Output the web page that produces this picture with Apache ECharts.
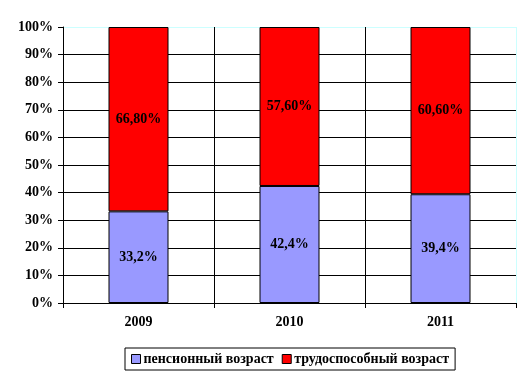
<!DOCTYPE html>
<html><head><meta charset="utf-8">
<script src="https://cdn.jsdelivr.net/npm/echarts@6/dist/echarts.min.js"></script>
<style>html,body{margin:0;padding:0;background:#fff}#c{width:531px;height:379px}</style>
</head><body><div id="c"></div>
<script>
var categories = ['2009', '2010', '2011'];
var pensionValues = [33.2, 42.4, 39.4];
var workingValues = [66.8, 57.6, 60.6];
var pensionLabels = ['33,2%', '42,4%', '39,4%'];
var workingLabels = ['66,80%', '57,60%', '60,60%'];
var seriesNames = ['пенсионный возраст', 'трудоспособный возраст'];

var font = 'Liberation Serif';
var yLineColors = [];
for (var i = 0; i < 10; i++) yLineColors.push('#000');
yLineColors.push('#ccffff');

var chart = echarts.init(document.getElementById('c'));
chart.setOption({
  animation: false,
  grid: {left: 63, right: 15, top: 27, bottom: 76, show: false},
  legend: {
    bottom: 9, left: 125,
    data: seriesNames,
    icon: 'rect',
    itemWidth: 9, itemHeight: 9, itemGap: 8,
    padding: [4, 6, 4, 6],
    borderColor: '#000', borderWidth: 1,
    textStyle: {fontFamily: font, fontWeight: 'bold', fontSize: 14, color: '#000', padding: [0, 0, 0, -2]},
    itemStyle: {borderColor: '#000', borderWidth: 1}
  },
  xAxis: {
    type: 'category', data: categories,
    axisLine: {lineStyle: {color: '#000', width: 1}},
    axisTick: {show: true, length: 5, lineStyle: {color: '#000'}},
    axisLabel: {fontFamily: font, fontWeight: 'bold', fontSize: 14, color: '#000', margin: 12},
    splitLine: {show: true, lineStyle: {color: ['#000', '#000', '#000', '#ccffff'], width: 1}}
  },
  yAxis: {
    type: 'value', min: 0, max: 100, interval: 10,
    axisLine: {show: true, lineStyle: {color: '#000', width: 1}},
    axisTick: {show: true, length: 5, lineStyle: {color: '#000'}},
    axisLabel: {fontFamily: font, fontWeight: 'bold', fontSize: 14, color: '#000', margin: 10, formatter: '{value}%'},
    splitLine: {show: true, lineStyle: {color: yLineColors, width: 1}}
  },
  series: [
    {
      name: seriesNames[0], type: 'bar', stack: 's', barWidth: 60,
      data: pensionValues,
      itemStyle: {color: '#9999ff', borderColor: '#000', borderWidth: 1},
      label: {show: true, position: 'inside', fontFamily: font, fontWeight: 'bold', fontSize: 14, color: '#000',
        formatter: function (p) { return pensionLabels[p.dataIndex]; }}
    },
    {
      name: seriesNames[1], type: 'bar', stack: 's', barWidth: 60,
      data: workingValues,
      itemStyle: {color: '#ff0000', borderColor: '#000', borderWidth: 1},
      label: {show: true, position: 'inside', fontFamily: font, fontWeight: 'bold', fontSize: 14, color: '#000',
        formatter: function (p) { return workingLabels[p.dataIndex]; }}
    }
  ]
});
</script></body></html>
